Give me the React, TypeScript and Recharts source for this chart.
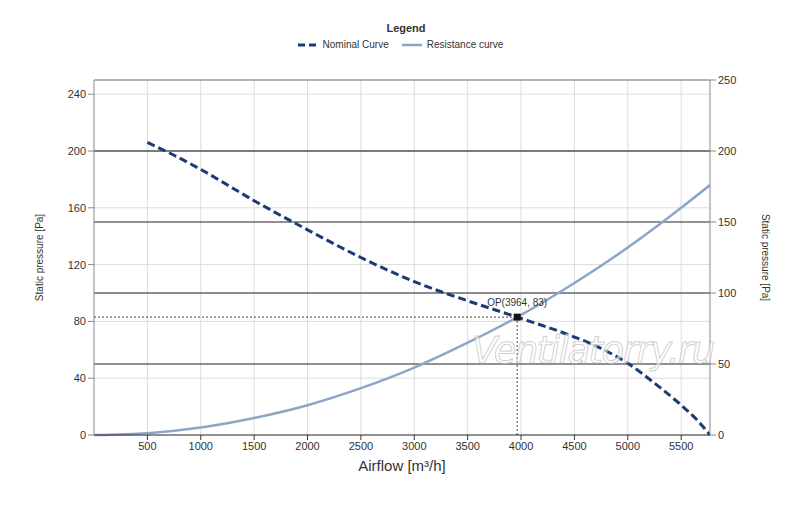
import React from 'react';
import {
    ComposedChart,
    Line,
    XAxis,
    YAxis,
    CartesianGrid,
    ReferenceLine,
    ReferenceDot,
} from 'recharts';

// Nominal fan curve
const nominalFlow = [500, 750, 1000, 1500, 2000, 2500, 3000, 3500, 3964, 4500, 4750, 5000, 5250, 5500, 5650, 5770];
const nominalPressure = [206, 197, 187, 165, 144.5, 125, 108, 94.5, 83, 69, 61, 50.5, 36.5, 21, 10.5, 0];

// System resistance curve
const resistanceFlow = [0, 500, 1000, 1500, 2000, 2500, 3000, 3500, 3964, 4500, 5000, 5500, 5770];
const resistancePressure = [0, 1.3, 5.3, 12, 21, 33, 47.5, 65, 83, 107, 132, 160, 176];

const xTicks = [500, 1000, 1500, 2000, 2500, 3000, 3500, 4000, 4500, 5000, 5500];
const leftTicks = [0, 40, 80, 120, 160, 200, 240];
const rightTicks = [0, 50, 100, 150, 200, 250];
const opFlow = 3964;
const opPressure = 83;

const nominalData = nominalFlow.map((flow, i) => ({ flow, pressure: nominalPressure[i] }));
const resistanceData = resistanceFlow.map((flow, i) => ({ flow, pressure: resistancePressure[i] }));

const NAVY = '#1c3a78';
const STEEL = '#8ea6c6';
const FONT = '"Liberation Sans", Arial, sans-serif';

const tickStyle = { fontSize: 11, fill: '#333', fontFamily: FONT };

const SideLabel = ({ viewBox, side }) => {
    const cy = viewBox.y + viewBox.height / 2;
    const cx = side === 'left' ? 40 : 765;
    return (
        <text
            transform={`translate(${cx},${cy}) rotate(${side === 'left' ? -90 : 90})`}
            textAnchor="middle"
            dominantBaseline="middle"
            fontSize={10}
            fill="#333"
            fontFamily={FONT}
        >
            Static pressure [Pa]
        </text>
    );
};

const LegendBox = () => (
    <div style={{ position: 'absolute', left: 0, top: 22, fontFamily: FONT, color: '#333', textAlign: 'center', width: 800 }}>
        <div style={{ fontSize: 11, fontWeight: 'bold', marginLeft: 12 }}>Legend</div>
        <div style={{ fontSize: 10, marginTop: 5, display: 'flex', justifyContent: 'center', alignItems: 'center' }}>
            <svg width={22} height={8}>
                <line x1={1} y1={4} x2={21} y2={4} stroke={NAVY} strokeWidth={3} strokeDasharray="7 4" />
            </svg>
            <span style={{ marginLeft: 4, marginRight: 12 }}>Nominal Curve</span>
            <svg width={22} height={8}>
                <line x1={1} y1={4} x2={21} y2={4} stroke={STEEL} strokeWidth={2.5} />
            </svg>
            <span style={{ marginLeft: 4 }}>Resistance curve</span>
        </div>
    </div>
);

const OpMarker = ({ cx, cy }) => <rect x={cx - 3.5} y={cy - 3.5} width={7} height={7} fill="#111" />;

export default function App() {
    return (
        <div style={{ position: 'absolute', left: 0, top: 0, width: 800, height: 507, background: '#fff' }}>
            <ComposedChart width={800} height={507} margin={{ top: 80, right: 10, bottom: 42, left: 10 }}>
                <CartesianGrid stroke="#dcdcdc" yAxisId="left" horizontalValues={leftTicks} verticalValues={xTicks} />
                <XAxis
                    type="number"
                    dataKey="flow"
                    domain={[0, 5770]}
                    ticks={xTicks}
                    allowDataOverflow
                    height={30}
                    tick={tickStyle}
                    tickSize={5}
                    stroke="#333"
                    label={{ value: 'Airflow [m³/h]', position: 'insideBottom', offset: -6, fontSize: 15, fill: '#333', fontFamily: FONT }}
                />
                <YAxis
                    yAxisId="left"
                    type="number"
                    domain={[0, 250]}
                    ticks={leftTicks}
                    width={84}
                    tick={tickStyle}
                    tickSize={6}
                    stroke="#888"
                    label={<SideLabel side="left" />}
                />
                <YAxis
                    yAxisId="right"
                    orientation="right"
                    type="number"
                    domain={[0, 250]}
                    ticks={rightTicks}
                    allowDataOverflow
                    width={80}
                    tick={tickStyle}
                    tickSize={6}
                    stroke="#888"
                    label={<SideLabel side="right" />}
                />
                <ReferenceLine yAxisId="right" y={200} stroke="#555" strokeWidth={1.5} />
                <ReferenceLine yAxisId="right" y={150} stroke="#222" strokeWidth={1} />
                <ReferenceLine yAxisId="right" y={100} stroke="#666" strokeWidth={1.5} />
                <ReferenceLine yAxisId="right" y={50} stroke="#222" strokeWidth={1} />
                <ReferenceLine yAxisId="right" y={250} stroke="#999" strokeWidth={1.5} />
                <ReferenceLine
                    yAxisId="left"
                    segment={[{ x: 0, y: opPressure }, { x: opFlow, y: opPressure }]}
                    stroke="#444"
                    strokeDasharray="2 2"
                />
                <ReferenceLine
                    yAxisId="left"
                    segment={[{ x: opFlow, y: 0 }, { x: opFlow, y: opPressure }]}
                    stroke="#444"
                    strokeDasharray="2 2"
                />
                {/* invisible series so the right axis gets a scale */}
                <Line
                    yAxisId="right"
                    data={nominalData}
                    dataKey="pressure"
                    stroke="none"
                    dot={false}
                    activeDot={false}
                    legendType="none"
                    isAnimationActive={false}
                />
                <Line
                    yAxisId="left"
                    data={resistanceData}
                    dataKey="pressure"
                    type="monotone"
                    stroke={STEEL}
                    strokeWidth={2.5}
                    dot={false}
                    isAnimationActive={false}
                    name="Resistance curve"
                />
                <Line
                    yAxisId="left"
                    data={nominalData}
                    dataKey="pressure"
                    type="monotone"
                    stroke={NAVY}
                    strokeWidth={3}
                    strokeDasharray="8 4"
                    dot={false}
                    isAnimationActive={false}
                    name="Nominal Curve"
                />
                <ReferenceDot
                    yAxisId="left"
                    x={opFlow}
                    y={opPressure}
                    r={3.5}
                    shape={OpMarker}
                    label={{ value: `OP(${opFlow}, ${opPressure})`, position: 'top', offset: 8, fontSize: 10, fill: '#333', fontFamily: FONT }}
                />
            </ComposedChart>
            <LegendBox />
            <div
                style={{
                    position: 'absolute',
                    left: 472,
                    top: 329,
                    fontFamily: '"DejaVu Sans", sans-serif',
                    fontStyle: 'italic',
                    fontSize: 37,
                    color: 'rgba(255,255,255,0.6)',
                    WebkitTextStroke: '1px rgba(170,170,170,0.55)',
                    letterSpacing: -1.5,
                    pointerEvents: 'none',
                    whiteSpace: 'nowrap',
                }}
            >
                Ventilatorry.ru
            </div>
        </div>
    );
}
